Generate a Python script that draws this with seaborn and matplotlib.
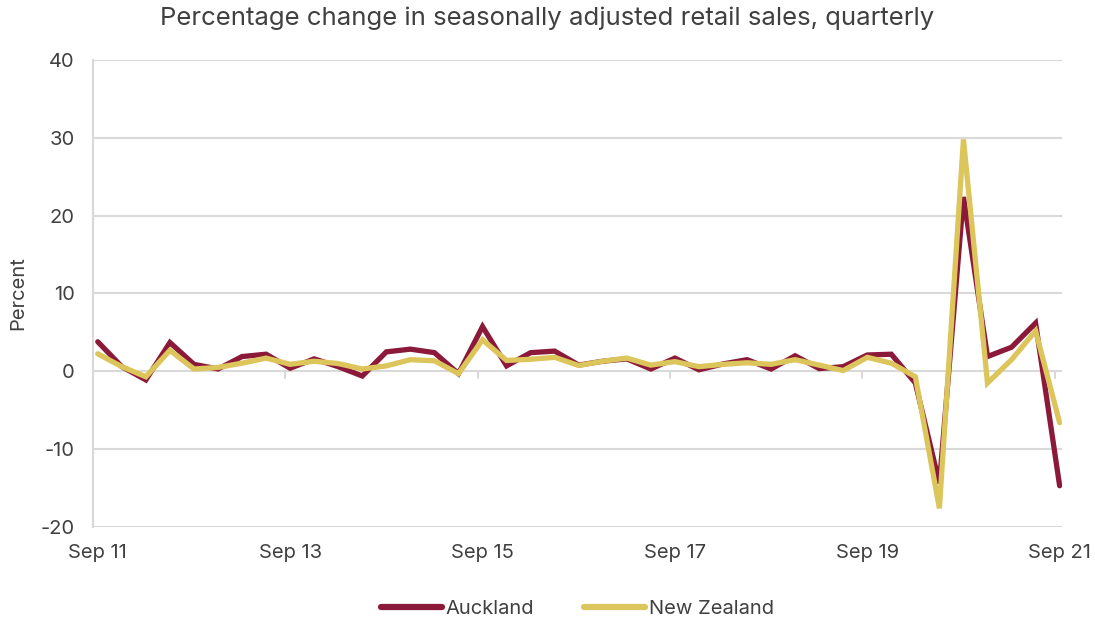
import numpy as np
import pandas as pd
import matplotlib
matplotlib.use("Agg")
import matplotlib.pyplot as plt
import seaborn as sns

quarters = [f"{m} {y:02d}" for y in range(11, 22) for m in ["Mar", "Jun", "Sep", "Dec"]]
quarters = quarters[2:-1]  # Sep 11 .. Sep 21 (41 quarters)

auckland = [3.8, 0.6, -1.1, 3.7, 0.9, 0.3, 1.9, 2.2, 0.4, 1.6, 0.6,
            -0.6, 2.5, 2.85, 2.4, -0.3, 5.75, 0.7, 2.4, 2.6, 0.8,
            1.3, 1.6, 0.3, 1.7, 0.2, 0.95, 1.5, 0.3, 2.0, 0.35,
            0.6, 2.1, 2.2, -1.5, -14.4, 22.4, 1.9, 3.1, 6.2, -14.7]
new_zealand = [2.25, 0.6, -0.7, 2.7, 0.3, 0.5, 1.05, 1.7, 0.9, 1.3, 1.0,
               0.3, 0.7, 1.5, 1.35, -0.3, 4.05, 1.4, 1.55, 1.8, 0.75,
               1.3, 1.7, 0.8, 1.25, 0.6, 0.9, 1.1, 0.9, 1.5, 0.8,
               0.1, 1.8, 1.05, -0.7, -17.6, 29.8, -1.5, 1.5, 5.2, -6.6]
series_names = ["Auckland", "New Zealand"]
colors = ["#8B1A3A", "#DCC55A"]
tick_labels = ["Sep 11", "Sep 13", "Sep 15", "Sep 17", "Sep 19", "Sep 21"]

idx = np.arange(len(quarters))
df = pd.concat([
    pd.DataFrame({"i": idx, "Quarter": quarters, "value": auckland, "series": series_names[0]}),
    pd.DataFrame({"i": idx, "Quarter": quarters, "value": new_zealand, "series": series_names[1]}),
])

sns.set_style("white")
plt.rcParams["font.family"] = ["Inter", "DejaVu Sans"]
plt.rcParams["axes.unicode_minus"] = False
text_color = "#404040"
grid_color = "#D9D9D9"

fig = plt.figure(figsize=(10.95, 6.19), dpi=100)
ax = fig.add_axes([0.0849, 0.1486, 0.8850, 0.7545])

sns.lineplot(data=df, x="i", y="value", hue="series", palette=colors,
             hue_order=series_names, linewidth=3.8, ax=ax, legend=True,
             solid_capstyle="round", solid_joinstyle="miter")

ax.set_ylim(-20, 40)
ax.set_yticks(np.arange(-20, 41, 10))
ax.set_xlim(-0.2, 40.1)
tick_pos = [quarters.index(t) for t in tick_labels]
ax.set_xticks(tick_pos)
ax.set_xticklabels(tick_labels)
ax.grid(axis="y", color=grid_color, linewidth=1.5)
ax.set_axisbelow(True)

# small tick marks on the zero axis (category-axis style)
for p in tick_pos[1:]:
    ax.plot([p - 0.2, p - 0.2], [0, -0.8], color=grid_color, linewidth=1.5, zorder=0)

for s in ["top", "right", "bottom"]:
    ax.spines[s].set_visible(False)
ax.spines["left"].set_color(grid_color)
ax.spines["left"].set_linewidth(1.5)
ax.tick_params(axis="y", length=6, color=grid_color, width=1.5, labelsize=14.5,
               labelcolor=text_color, pad=7)
ax.tick_params(axis="x", length=0, labelsize=14.5, labelcolor=text_color, pad=12)

ax.set_xlabel("")
ax.set_ylabel("Percent", fontsize=14.5, color=text_color, labelpad=10)
fig.suptitle("Percentage change in seasonally adjusted retail sales, quarterly",
             fontsize=18.5, color=text_color, y=0.99)

handles, labels = ax.get_legend_handles_labels()
leg = ax.legend(handles, labels, loc="center", bbox_to_anchor=(0.5, -0.175),
                ncol=2, frameon=False, fontsize=14.5, handlelength=3.0,
                handletextpad=0.2, columnspacing=2.5)
for t in leg.get_texts():
    t.set_color(text_color)
for h in leg.get_lines():
    h.set_linewidth(4.5)
    h.set_solid_capstyle("round")

fig.savefig("out.png", dpi=100, facecolor="white")
